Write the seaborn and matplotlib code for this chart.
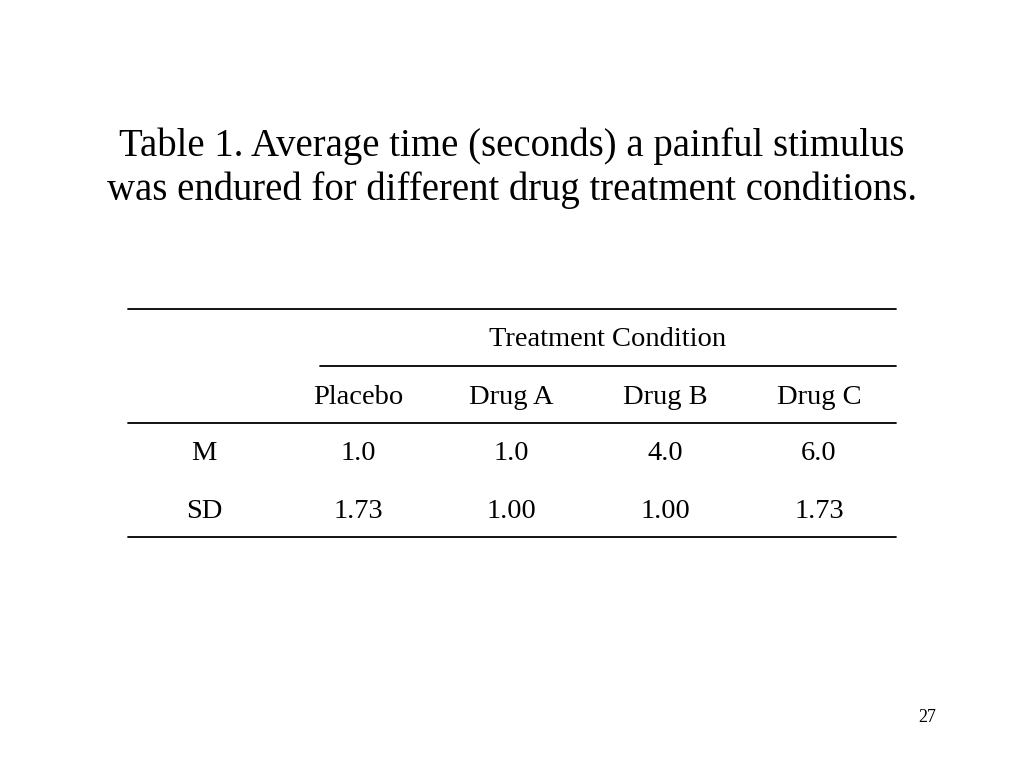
import matplotlib
matplotlib.use("Agg")
import matplotlib.pyplot as plt
import seaborn as sns

sns.set_theme(style="white")
plt.rcParams["font.family"] = "Liberation Serif"
plt.rcParams["text.color"] = "black"

title_lines = ["Table 1. Average time (seconds) a painful stimulus",
               "was endured for different drug treatment conditions."]
spanner = "Treatment Condition"
conditions = ["Placebo", "Drug A", "Drug B", "Drug C"]
row_labels = ["M", "SD"]
means = ["1.0", "1.0", "4.0", "6.0"]
sds = ["1.73", "1.00", "1.00", "1.73"]
page_number = "27"

fig = plt.figure(figsize=(10.24, 7.68), dpi=100)
ax = fig.add_axes([0, 0, 1, 1])
ax.set_xlim(0, 1024)
ax.set_ylim(768, 0)
ax.axis("off")

ax.text(512, 146, title_lines[0], ha="center", va="center", fontsize=27.9, color="black")
ax.text(512, 190, title_lines[1], ha="center", va="center", fontsize=27.9, color="black")

col_x = [358, 511, 665, 819]
label_x = 204
for y, x0 in [(309, 128), (366, 320), (423, 128), (537, 128)]:
    ax.plot([x0, 896], [y, y], color="black", lw=1.3)

fs = 20.5
ax.text(608, 340, spanner, ha="center", va="center", fontsize=fs, color="black")
for x, c in zip(col_x, conditions):
    ax.text(x, 397, c, ha="center", va="center", fontsize=fs, color="black")
for y, lab, vals in [(454, row_labels[0], means), (511, row_labels[1], sds)]:
    ax.text(label_x, y, lab, ha="center", va="center", fontsize=fs, color="black")
    for x, v in zip(col_x, vals):
        ax.text(x, y, v, ha="center", va="center", fontsize=fs, color="black")

ax.text(927, 717, page_number, ha="center", va="center", fontsize=13, color="black")

fig.savefig("out.png", dpi=100, facecolor="white")
